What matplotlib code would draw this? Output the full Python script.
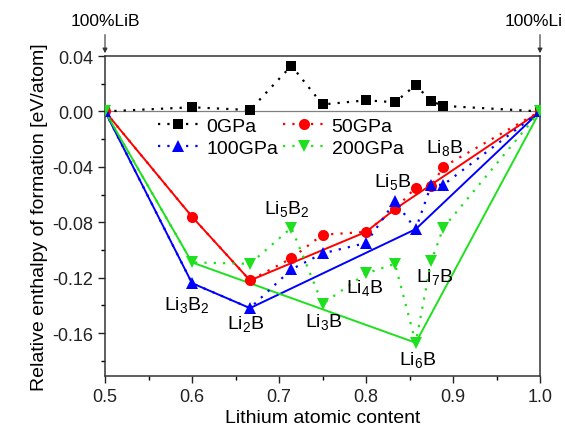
import matplotlib
matplotlib.use("Agg")
import matplotlib.pyplot as plt
from matplotlib.ticker import MultipleLocator, FormatStrFormatter

# Li content of each Li-B composition (LiB ... Li8B, Li)
x_li = [0.5, 0.6, 2 / 3, 5 / 7, 0.75, 0.8, 5 / 6, 6 / 7, 7 / 8, 8 / 9, 1.0]

h_0gpa = [0.0, 0.003, 0.001, 0.033, 0.005, 0.008, 0.0066, 0.019, 0.0073, 0.004, 0.0]
h_50gpa = [0.0, -0.076, -0.122, -0.106, -0.089, -0.087, -0.0705, -0.055, -0.054, -0.040, 0.0]
h_100gpa = [0.0, -0.124, -0.142, -0.114, -0.1025, -0.095, -0.065, -0.085, -0.053, -0.053, 0.0]
h_200gpa = [0.0, -0.109, -0.110, -0.084, -0.139, -0.117, -0.110, -0.167, -0.108, -0.084, 0.0]

# indices of the points joined by the solid (hull) lines
hull_50 = [0, 1, 2, 5, 6, 10]
hull_100 = [0, 1, 2, 7, 10]
hull_200 = [0, 1, 7, 10]

labels = ["Li$_3$B$_2$", "Li$_2$B", "Li$_5$B$_2$", "Li$_3$B", "Li$_4$B",
          "Li$_5$B", "Li$_6$B", "Li$_7$B", "Li$_8$B"]
label_x = [0.594, 0.662, 0.709, 0.751, 0.799, 0.831, 0.860, 0.879, 0.891]
label_y = [-0.139, -0.153, -0.070, -0.151, -0.127, -0.050, -0.179, -0.119, -0.0255]

RED, BLUE, GREEN = "#ff0000", "#0000ff", "#1ee01e"
DOTS = (0, (1, 3.2))

plt.rcParams["font.family"] = ["Liberation Sans", "DejaVu Sans"]
plt.rcParams["mathtext.fontset"] = "custom"
plt.rcParams["mathtext.rm"] = "Liberation Sans"
plt.rcParams["mathtext.it"] = "Liberation Sans"

fig = plt.figure(figsize=(5.65, 4.31), dpi=100)
ax = fig.add_axes([105 / 565, 1 - 377 / 431, 435 / 565, 320 / 431])

ax.axhline(0, color="#808080", lw=0.9, zorder=1)

series = [
    (h_0gpa, "k", "s", 6.5, "0GPa", None),
    (h_50gpa, RED, "o", 8, "50GPa", hull_50),
    (h_100gpa, BLUE, "^", 8, "100GPa", hull_100),
    (h_200gpa, GREEN, "v", 8, "200GPa", hull_200),
]
handles = {}
for h, c, m, ms, name, hull in series:
    ln, = ax.plot(x_li, h, color=c, ls=DOTS, lw=1.6, marker=m, ms=ms,
                  markeredgewidth=0, label=name, zorder=3)
    handles[name] = ln
    if hull:
        ax.plot([x_li[i] for i in hull], [h[i] for i in hull], color=c,
                lw=1.4, zorder=2)

for t, lx, ly in zip(labels, label_x, label_y):
    ax.text(lx, ly, t, ha="center", va="center", fontsize=14)

ax.set_xlim(0.5, 1.0)
ax.set_ylim(-0.191, 0.04)
ax.xaxis.set_major_locator(MultipleLocator(0.1))
ax.xaxis.set_minor_locator(MultipleLocator(0.05))
ax.yaxis.set_major_locator(MultipleLocator(0.04))
ax.yaxis.set_minor_locator(MultipleLocator(0.02))
ax.xaxis.set_major_formatter(FormatStrFormatter("%.1f"))
ax.yaxis.set_major_formatter(FormatStrFormatter("%.2f"))
ax.tick_params(which="major", direction="out", length=5, width=1.0,
               labelsize=13, colors="#222222")
ax.tick_params(which="minor", direction="out", length=3, width=1.0)
for s in ax.spines.values():
    s.set_linewidth(1.1)
    s.set_color("#333333")

ax.set_xlabel("Lithium atomic content", fontsize=14, labelpad=3)
ax.set_ylabel("Relative enthalpy of formation [eV/atom]", fontsize=14,
              labelpad=3)

order = ["0GPa", "100GPa", "50GPa", "200GPa"]
ax.legend([handles[k] for k in order], order, loc="upper left",
          bbox_to_anchor=(0.103, 0.832), ncol=2, frameon=False, fontsize=14,
          handlelength=2.15, columnspacing=0.25, handletextpad=0.35,
          labelspacing=0.22, borderaxespad=0)

for xe, tx, txt in [(0.5, 0.5, "100%LiB"), (1.0, 0.993, "100%Li")]:
    ax.annotate("", xy=(xe, 0.04), xytext=(xe, 0.0575),
                arrowprops=dict(arrowstyle="-|>", color="#333333", lw=0.8,
                                mutation_scale=7), annotation_clip=False)
    ax.text(tx, 0.0605, txt, ha="center", va="bottom", fontsize=12.5)

fig.savefig("out.png", dpi=100)
